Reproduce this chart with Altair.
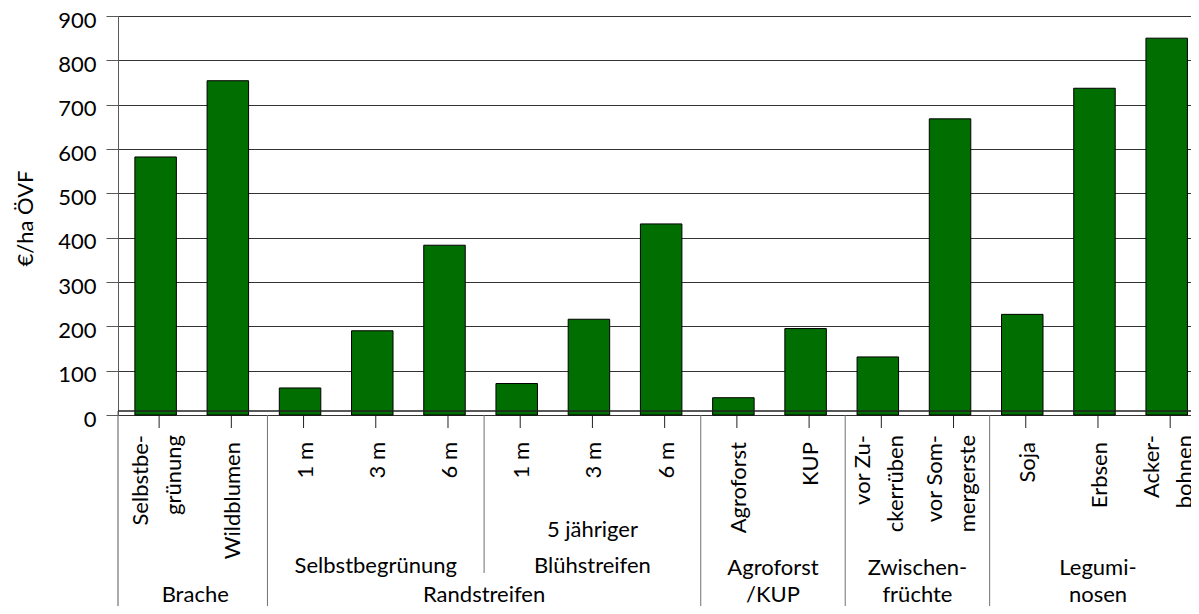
import altair as alt
import pandas as pd

# ---- data ----
labels = ["Selbstbe-\ngrünung", "Wildblumen", "1 m", "3 m", "6 m", "1 m", "3 m", "6 m",
          "Agroforst", "KUP", "vor Zu-\nckerrüben", "vor Som-\nmergerste",
          "Soja", "Erbsen", "Acker-\nbohnen"]
values = [582, 754, 61, 190, 383, 71, 216, 431, 39, 195, 131, 668, 227, 737, 850]
sub_groups = ["", "", "Selbstbegrünung", "Selbstbegrünung", "Selbstbegrünung",
              "5 jähriger\nBlühstreifen", "5 jähriger\nBlühstreifen", "5 jähriger\nBlühstreifen",
              "", "", "", "", "", "", ""]
groups = ["Brache", "Brache", "Randstreifen", "Randstreifen", "Randstreifen",
          "Randstreifen", "Randstreifen", "Randstreifen", "Agroforst\n/KUP", "Agroforst\n/KUP",
          "Zwischen-\nfrüchte", "Zwischen-\nfrüchte", "Legumi-\nnosen", "Legumi-\nnosen",
          "Legumi-\nnosen"]
y_ticks = [0, 100, 200, 300, 400, 500, 600, 700, 800, 900]

FONT = "Lato"
FS = 22
n = len(values)
SLOT = 72.9
W = 1073            # visible plot width (the reference plot runs past the page edge)
H = 399
X_MAX = W / SLOT

df = pd.DataFrame({"pos": [i + 0.5 for i in range(n)], "value": values, "label": labels})
df["multi"] = df["label"].str.contains("\n")


def spans(keys):
    out = []
    start = 0
    for i in range(1, n + 1):
        if i == n or keys[i] != keys[start]:
            out.append((keys[start], start, i))
            start = i
    return out


g_spans = spans(groups)
s_spans = [s for s in spans(sub_groups) if s[0]]


def two_lines(t):
    parts = t.split("\n")
    return ("" if len(parts) == 1 else parts[0]) + "\n" + parts[-1]


grp_df = pd.DataFrame({"pos": [(a + b) / 2 for _, a, b in g_spans],
                       "txt": [two_lines(k) for k, _, _ in g_spans]})
sub_df = pd.DataFrame({"pos": [(a + b) / 2 for _, a, b in s_spans],
                       "txt": [two_lines(k) for k, _, _ in s_spans]})
sep_full = pd.DataFrame({"pos": [a for _, a, _ in g_spans[1:]]})
sep_sub = pd.DataFrame({"pos": [a for _, a, _ in s_spans[1:]]})

xs = alt.Scale(domain=[0, X_MAX], nice=False, zero=False)
X = alt.X("pos:Q", scale=xs, axis=None)

bars = alt.Chart(df).mark_bar(size=41.5, xOffset=-3.5, color="#006e00",
                              stroke="#000000", strokeWidth=1).encode(
    x=X,
    y=alt.Y("value:Q", scale=alt.Scale(domain=[0, 900], nice=False),
            axis=alt.Axis(values=y_ticks, grid=True, gridColor="#333333", gridWidth=1,
                          domainColor="#595959", tickColor="#595959", tickSize=12,
                          labelPadding=10, labelOffset=4, labelFont=FONT, labelFontSize=FS,
                          labelColor="#000000",
                          title="€/ha ÖVF", titleFont=FONT, titleFontSize=FS,
                          titleFontWeight="normal", titleColor="#000000",
                          titleX=-86, titleY=202, titleAngle=270,
                          titleAlign="center", titleBaseline="alphabetic")),
    y2=alt.value(395),
)

one = pd.DataFrame({"k": [0]})
axis_line = alt.Chart(one).mark_rule(color="#222222", strokeWidth=1.5).encode(
    x=alt.value(0), x2=alt.value(W), y=alt.value(395))
left_line = alt.Chart(one).mark_rule(color="#595959", strokeWidth=1).encode(
    x=alt.value(0), y=alt.value(395), y2=alt.value(700))
seps = alt.Chart(sep_full).mark_rule(color="#707070", strokeWidth=1).encode(
    x=X, y=alt.value(399), y2=alt.value(700))
seps2 = alt.Chart(sep_sub).mark_rule(color="#707070", strokeWidth=1).encode(
    x=X, y=alt.value(399), y2=alt.value(557))
ticks = alt.Chart(df).mark_rule(color="#222222", strokeWidth=1).encode(
    x=X, y=alt.value(400), y2=alt.value(412))

txt_kw = dict(font=FONT, fontSize=FS, color="#000000", lineBreak="\n")
lab_single = alt.Chart(df).transform_filter("!datum.multi").mark_text(
    angle=270, align="right", baseline="alphabetic", dy=9, **txt_kw).encode(
    x=X, y=alt.value(426), text="label:N")
lab_multi = alt.Chart(df).transform_filter("datum.multi").mark_text(
    angle=270, align="right", baseline="alphabetic", dy=-11.5, lineHeight=33, **txt_kw).encode(
    x=X, y=alt.value(419), text="label:N")
sub_txt = alt.Chart(sub_df).mark_text(align="center", baseline="alphabetic",
                                      lineHeight=36, **txt_kw).encode(
    x=X, y=alt.value(520.5), text="txt:N")
grp_txt = alt.Chart(grp_df).mark_text(align="center", baseline="alphabetic",
                                      lineHeight=27, **txt_kw).encode(
    x=X, y=alt.value(559), text="txt:N")

chart = alt.layer(bars, axis_line, left_line, seps, seps2, ticks,
                  lab_single, lab_multi, sub_txt, grp_txt).properties(
    width=W, height=H,
    autosize=alt.AutoSizeParams(type="none"),
    padding={"left": 110, "top": 8, "right": 0, "bottom": 191},
).configure_view(stroke=None).configure(background="#ffffff")

chart.save("out.html", embed_options={"renderer": "svg", "actions": False})
